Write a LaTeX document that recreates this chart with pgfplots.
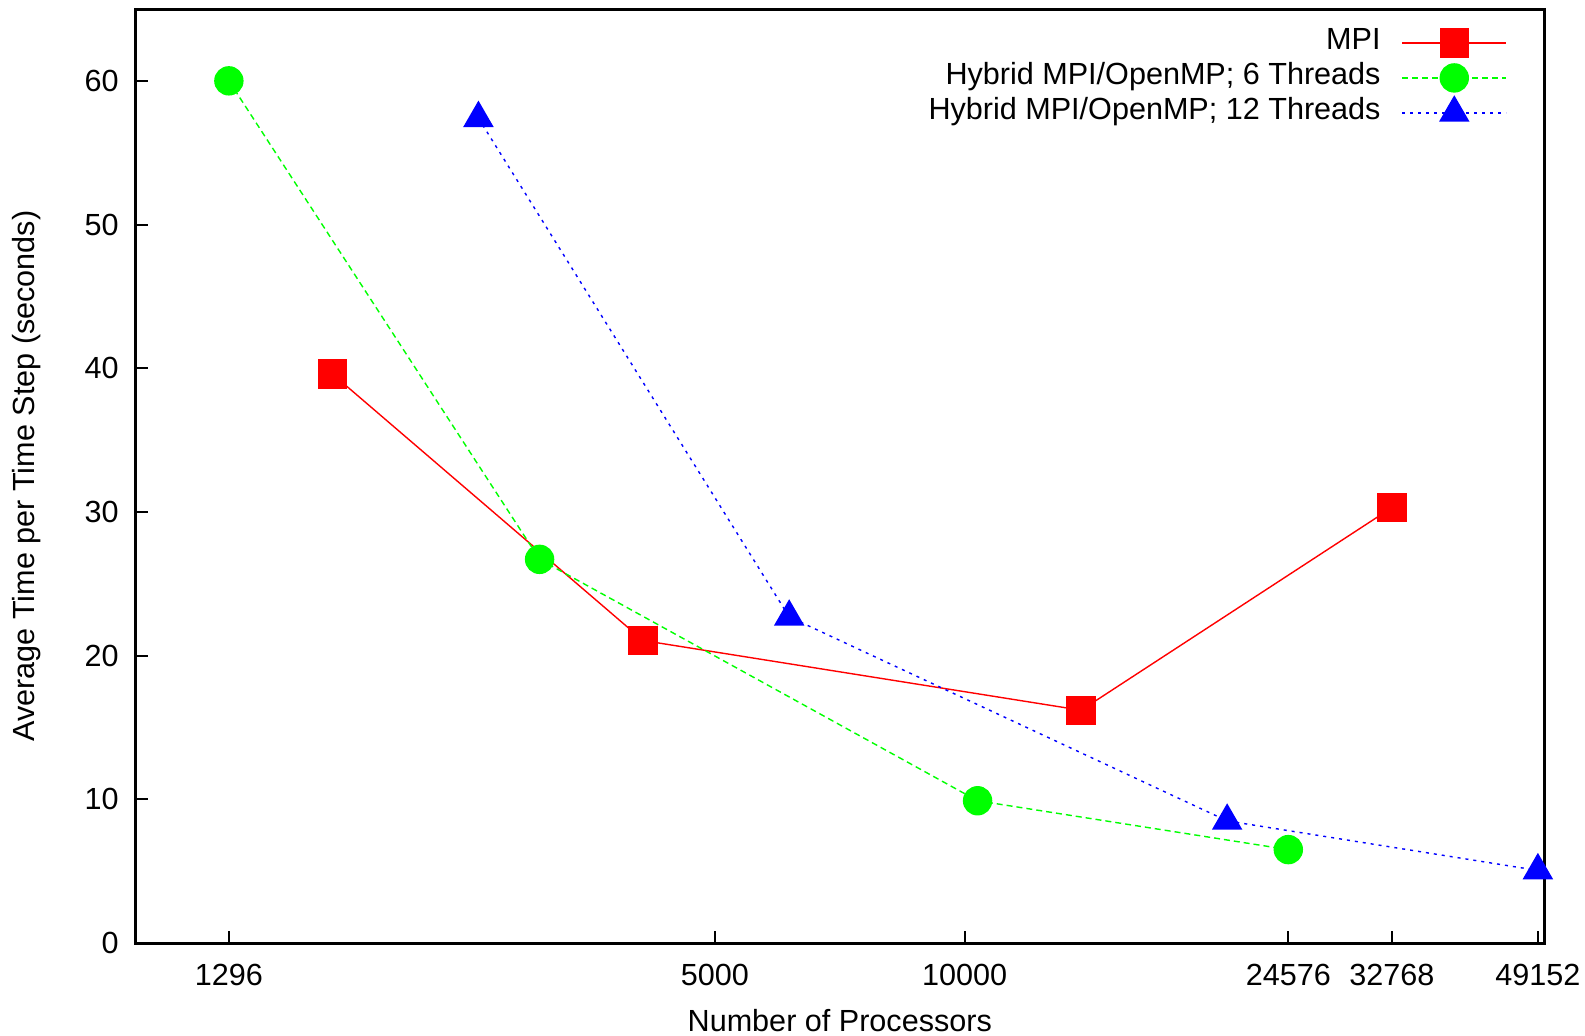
\documentclass[border=0pt]{standalone}
\usepackage{pgfplots}
\pgfplotsset{compat=1.18}
\usepackage{fontspec}
\setmainfont{Liberation Sans}
\definecolor{gpred}{RGB}{255,0,0}
\definecolor{gpgreen}{RGB}{0,255,0}
\definecolor{gpblue}{RGB}{0,0,255}
\begin{document}
\fontsize{8.7}{10}\selectfont
\begin{tikzpicture}
\path[use as bounding box] (-13.55mm,-9.2mm) rectangle (144.95mm,94.3mm);
\begin{axis}[
  scale only axis, width=140.85mm, height=93.4mm,
  at={(0,0)}, anchor=south west,
  xmode=log, xmin=1000, xmax=50000, ymin=0, ymax=65,
  xtick={1296,5000,10000,24576,32768,49152},
  xticklabels={1296,5000,10000,24576,32768,49152},
  ytick={0,10,20,30,40,50,60},
  xminorticks=false, yminorticks=false,
  tick align=inside, tick pos=left,
  major tick length=1.2mm,
  axis line style={line width=0.3mm},
  every tick/.style={line width=0.2mm, black},
  /pgf/number format/assume math mode=true,
  tick label style={font=\fontsize{8.7}{10}\selectfont},
  xticklabel style={yshift=-1mm},
  yticklabel style={xshift=-0.6mm},
  label style={font=\fontsize{8.7}{10}\selectfont},
  xlabel={Number of Processors},
  ylabel={Average Time per Time Step (seconds)},
  every axis x label/.style={at={(axis description cs:0.5,0)}, anchor=center, yshift=-7.8mm},
  every axis y label/.style={at={(axis description cs:0,0.5)}, anchor=center, rotate=90, yshift=10.85mm},
  clip=false,
  legend plot pos=right,
  legend cell align=right,
  legend image code/.code={\draw[mark repeat=2,mark phase=2,#1] plot coordinates {(0mm,0mm) (5.2mm,0mm) (10.4mm,0mm)};},
  legend style={draw=none, fill=none, inner sep=0pt, outer sep=0pt,
    at={(axis description cs:0.9737,0.982)}, anchor=north east,
    row sep=0.05mm, column sep=2.1mm,
    font=\fontsize{8.7}{10}\selectfont,
    nodes={inner sep=0pt, text height=2.4mm, text depth=1.04mm}},
]
\addplot[gpred, line width=0.4pt, mark=square*, mark size=1.4mm, mark options={solid, draw=gpred, fill=gpred}]
  coordinates {(1728,39.6) (4096,21.05) (13824,16.2) (32768,30.3)};
\addlegendentry{MPI}
\addplot[gpgreen, line width=0.4pt, dash pattern=on 0.6mm off 0.4mm, mark=*, mark size=1.4mm, mark options={solid, draw=gpgreen, fill=gpgreen}]
  coordinates {(1296,60.0) (3072,26.7) (10368,9.9) (24576,6.5)};
\addlegendentry{Hybrid MPI/OpenMP; 6 Threads}
\addplot[gpblue, line width=0.4pt, dash pattern=on 0.3mm off 0.5mm, mark=triangle*, mark size=1.62mm, mark options={solid, draw=gpblue, fill=gpblue}]
  coordinates {(2592,57.4) (6144,22.7) (20736,8.5) (49152,5.05)};
\addlegendentry{Hybrid MPI/OpenMP; 12 Threads}
\end{axis}
\end{tikzpicture}
\end{document}
